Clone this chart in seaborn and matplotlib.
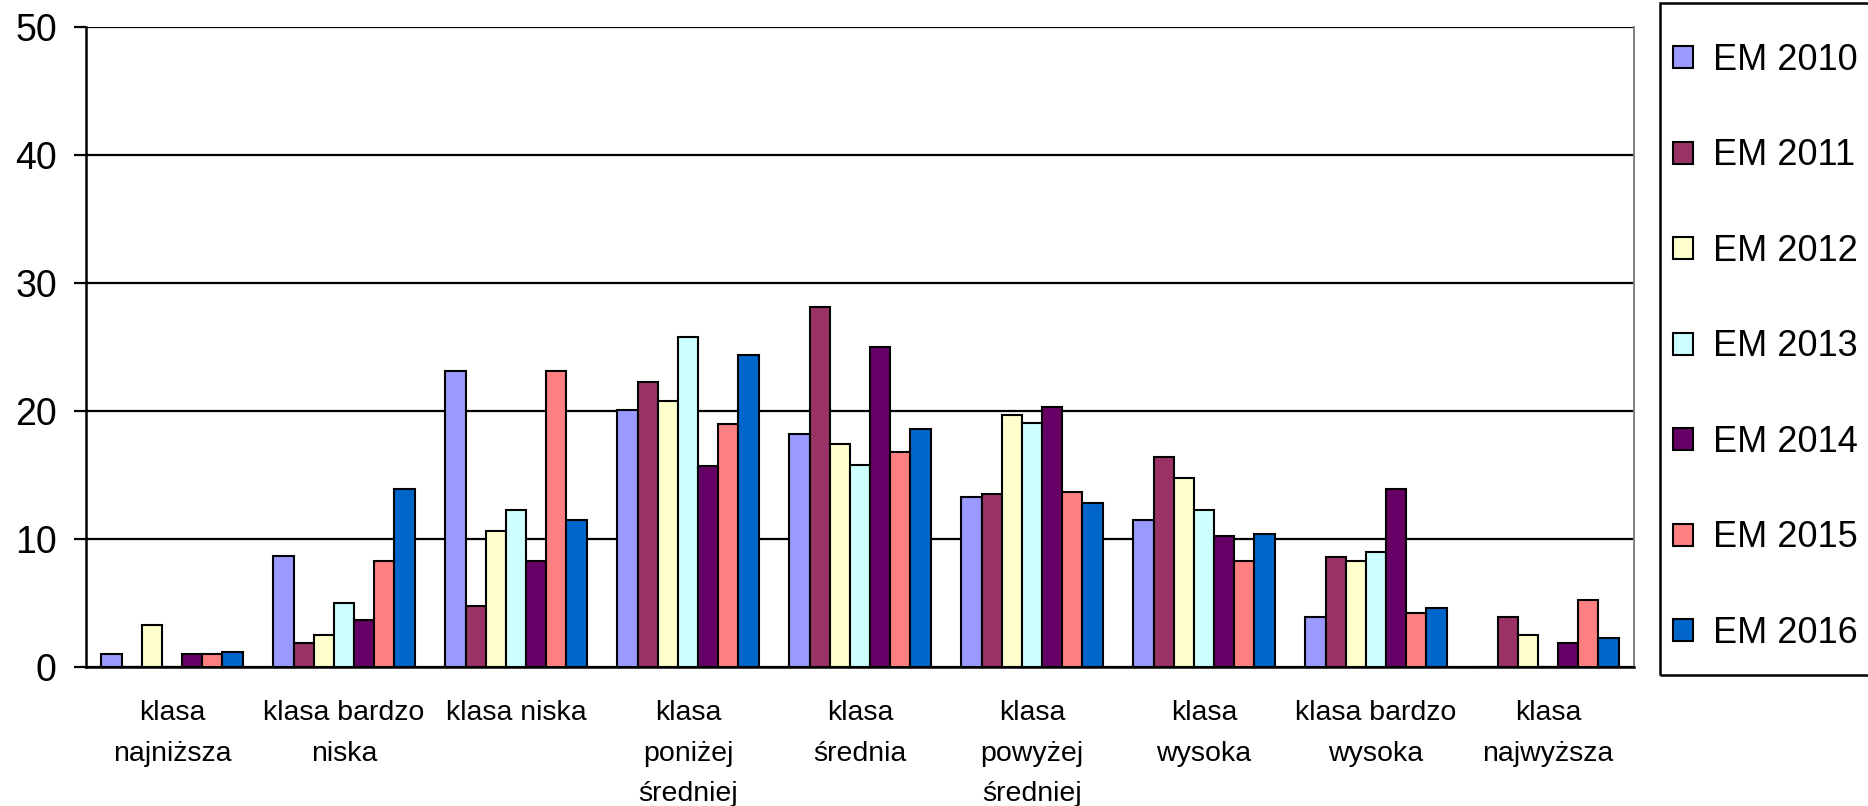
import numpy as np
import pandas as pd
import seaborn as sns
import matplotlib.pyplot as plt
from matplotlib.patches import Rectangle

classes = ["klasa\nnajniższa", "klasa bardzo\nniska", "klasa niska",
           "klasa\nponiżej\nśredniej", "klasa\nśrednia", "klasa\npowyżej\nśredniej",
           "klasa\nwysoka", "klasa bardzo\nwysoka", "klasa\nnajwyższa"]
years = ["EM 2010", "EM 2011", "EM 2012", "EM 2013", "EM 2014", "EM 2015", "EM 2016"]

em2010 = [1.0, 8.7, 23.1, 20.1, 18.2, 13.3, 11.5, 3.9, 0.0]
em2011 = [0.0, 1.9, 4.8, 22.3, 28.1, 13.5, 16.4, 8.6, 3.9]
em2012 = [3.3, 2.5, 10.6, 20.8, 17.4, 19.7, 14.8, 8.3, 2.5]
em2013 = [0.0, 5.0, 12.3, 25.8, 15.8, 19.1, 12.3, 9.0, 0.0]
em2014 = [1.0, 3.7, 8.3, 15.7, 25.0, 20.3, 10.2, 13.9, 1.9]
em2015 = [1.0, 8.3, 23.1, 19.0, 16.8, 13.7, 8.3, 4.2, 5.2]
em2016 = [1.2, 13.9, 11.5, 24.4, 18.6, 12.8, 10.4, 4.6, 2.3]

colors = ["#9999FF", "#993366", "#FFFFCC", "#CCFFFF", "#660066", "#FF8080", "#0066CC"]

series = [em2010, em2011, em2012, em2013, em2014, em2015, em2016]
rows = []
for y, vals in zip(years, series):
    for c, v in zip(classes, vals):
        rows.append({"klasa": c, "rok": y, "wartosc": v})
df = pd.DataFrame(rows)

sns.set_style("white")
plt.rcParams["font.family"] = ["Liberation Sans", "DejaVu Sans"]
plt.rcParams["text.color"] = "black"
plt.rcParams["xtick.color"] = "black"
plt.rcParams["ytick.color"] = "black"
plt.rcParams["xtick.labelcolor"] = "black"
plt.rcParams["ytick.labelcolor"] = "black"

W, H = 1868, 806
fig = plt.figure(figsize=(W / 100, H / 100), dpi=100)
ax = fig.add_axes([86 / W, 1 - 667 / H, (1634 - 86) / W, (667 - 27) / H])

sns.barplot(data=df, x="klasa", y="wartosc", hue="rok", palette=colors,
            saturation=1, width=0.82, edgecolor="black", linewidth=1.5,
            errorbar=None, legend=True, ax=ax, zorder=3)

ax.set_ylim(0, 50)
ax.set_xlim(-0.5, len(classes) - 0.5)
ax.set_yticks(range(0, 51, 10))
ax.yaxis.grid(True, color="black", linewidth=1.6, zorder=0)
ax.set_axisbelow(True)
ax.set_xlabel("")
ax.set_ylabel("")

ax.set_xticks(range(len(classes)))
ax.set_xticklabels(classes, fontsize=20.5, linespacing=1.72, va="top", color="black")
ax.set_xticks(np.arange(-0.5, len(classes), 1.0), minor=True)
ax.tick_params(axis="x", which="major", length=0, pad=24)
ax.tick_params(axis="x", which="minor", direction="out", length=7.5, width=1.6, color="black")
ax.tick_params(axis="y", direction="out", length=9, width=1.6, color="black",
               labelsize=27, labelcolor="black", pad=12, left=True)

for side in ["left", "bottom"]:
    ax.spines[side].set_color("black")
    ax.spines[side].set_linewidth(1.8)
ax.spines["right"].set_color("#808080")
ax.spines["right"].set_linewidth(1.4)
ax.spines["top"].set_visible(False)

handles, labels = ax.get_legend_handles_labels()
ax.get_legend().remove()
leg = fig.legend(handles, labels, loc="upper left",
                 bbox_to_anchor=(1673 / W, 1 - 43 / H), frameon=False,
                 fontsize=26, handlelength=0.55, handleheight=0.55,
                 handletextpad=0.55, labelspacing=1.675, borderpad=0, borderaxespad=0)
for t in leg.get_texts():
    t.set_color("black")
fig.patches.append(Rectangle((1660 / W, 1 - 675 / H), 260 / W, 672 / H,
                             transform=fig.transFigure, fill=False,
                             edgecolor="black", linewidth=1.8))

fig.savefig("out.png", dpi=100)
